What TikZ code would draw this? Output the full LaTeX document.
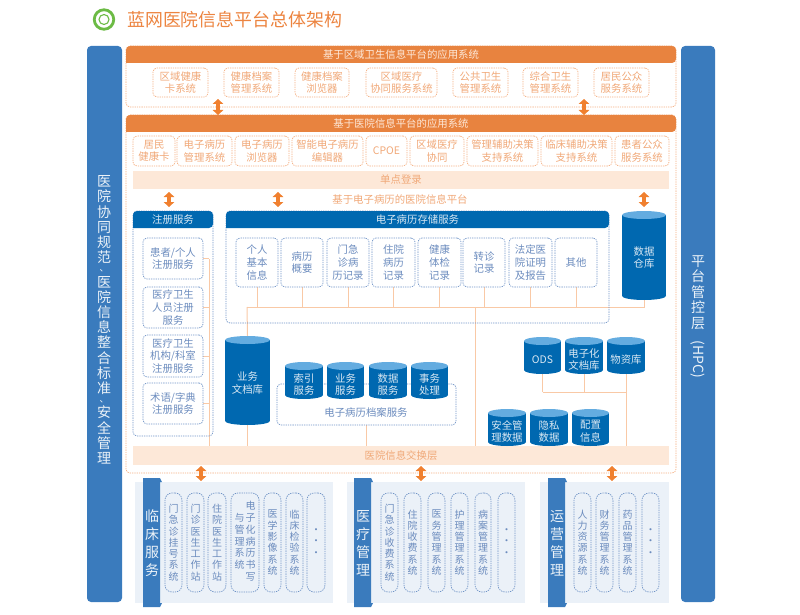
\documentclass[tikz,border=0pt]{standalone}
\usepackage{fontspec}
\setmainfont{Noto Sans CJK SC}
\usetikzlibrary{arrows.meta, calc, backgrounds}

\definecolor{barblue}{HTML}{3A7BBD}
\definecolor{headorange}{HTML}{E8833F}
\definecolor{headblue}{HTML}{0068B0}
\definecolor{cyltop}{HTML}{64ACE0}
\definecolor{bandpeach}{HTML}{FDE8D8}
\definecolor{paleblue}{HTML}{EBF1F8}
\definecolor{lineorange}{HTML}{F4AE80}
\definecolor{linkorange}{HTML}{F9C9A6}
\definecolor{textorange}{HTML}{F0A878}
\definecolor{lineblue}{HTML}{6F93C6}
\definecolor{textblue}{HTML}{6C8CBE}
\definecolor{arroworange}{HTML}{F0802F}
\definecolor{ringgreen}{HTML}{6CBB45}
\definecolor{titleorange}{HTML}{EC8440}

\tikzset{
	orgpanel/.style={draw=lineorange, line width=.7pt, dash pattern=on 1.3pt off 1pt, rounded corners=4pt},
	bluepanel/.style={draw=lineblue, line width=.7pt, dash pattern=on 1.3pt off 1pt, rounded corners=4pt},
	orgbox/.style={orgpanel, align=center, text=textorange, font=\fontsize{10.4}{12.6}\selectfont},
	bluebox/.style={bluepanel, align=center, text=textblue, font=\fontsize{10.4}{12.6}\selectfont},
	tallbox/.style={bluepanel, rounded corners=7pt, align=center, text=textblue, font=\fontsize{10}{11.3}\selectfont},
	band/.style={fill=bandpeach, align=center, text=textorange, font=\fontsize{10.4}{12.6}\selectfont},
	sidebar/.style={fill=barblue, rounded corners=4pt},
	subpanel/.style={fill=paleblue},
	drumtext/.style={align=center, inner sep=0pt, text=white!85!headblue, font=\fontsize{10.4}{12.6}\selectfont},
	link/.style={draw=linkorange, line width=1pt},
	fatarrow/.style={arroworange, line width=4.2pt, {Triangle[length=5pt,width=10.5pt]}-{Triangle[length=5pt,width=10.5pt]}},
}

% box from its corners: style, name, x0, y0, x1, y1, text
\newcommand{\cornerbox}[7]{\node[#1, minimum width={(#5)-(#3)}, minimum height={(#6)-(#4)}, inner sep=0pt] (#2) at ({((#3)+(#5))/2},{((#4)+(#6))/2}) {#7};}
% header with rounded top: colour, text colour, name, x0, y0, x1, y1, text
\newcommand{\headbar}[8]{
	\fill[#1] (#4,#7) {[rounded corners=4pt] -- (#4,#5) -- (#6,#5) -- (#6,#7)} -- cycle;
	\node[text=#2, font=\fontsize{10.4}{12.6}\selectfont, inner sep=0pt] (#3) at ({((#4)+(#6))/2},{((#5)+(#7))/2}) {#8};
}
% tab of a bottom panel: name, x0, x1, text
\newcommand{\tabbar}[4]{
	\fill[barblue] (#2,478) -- ({#3-2},478) -- (#3,482) -- ({#3-2},482) -- ({#3-2},603) -- (#3,603) -- ({#3-2},607) -- (#2,607) -- cycle;
	\node[align=center, text=white!90!barblue, font=\fontsize{14}{18}\selectfont, inner sep=0pt] (#1) at ({(#2+#3-1)/2},543) {#4};
}
% drum: name, x0, y0, x1, y1, text shift, text
\newcommand{\dbdrum}[7]{
	\fill[headblue] (#2,{#3+4}) rectangle (#4,{#5-4});
	\fill[headblue] ({(#2+#4)/2},{#5-4}) ellipse [x radius={(#4-#2)/2}, y radius=4];
	\fill[cyltop] ({(#2+#4)/2},{#3+4}) ellipse [x radius={(#4-#2)/2}, y radius=4];
	\cornerbox{}{#1}{#2}{#3}{#4}{#5}{}
	\node[drumtext] (#1text) at ({(#2+#4)/2},{(#3+#5)/2+#6}) {#7};
}
\newcommand{\smalldun}{{\fontsize{9}{9}\selectfont 、}}

\begin{document}
\begin{tikzpicture}[x=1pt, y=-1pt]
	\useasboundingbox (0,0) rectangle (800,615);

	% title
	\node[circle, draw=ringgreen, line width=2.8pt, minimum size=19.5pt, inner sep=0pt] (ringout) at (104,19.5) {};
	\node[circle, draw=ringgreen, line width=1.1pt, minimum size=10pt, inner sep=0pt] (ringin) at (104,19.5) {};
	\node[anchor=west, text=titleorange, font=\fontsize{17.9}{20}\selectfont, inner sep=0pt] (title) at (127,20) {蓝网医院信息平台总体架构};

	% side bars
	\cornerbox{sidebar}{barL}{87}{46}{122}{602}{}
	\cornerbox{sidebar}{barR}{681}{46}{715}{602}{}
	\node[align=center, text=white!90!barblue, font=\fontsize{14}{15.2}\selectfont, inner sep=0pt] (barLtext) at (104,320) {医\\院\\协\\同\\规\\范\\[-6pt]\smalldun\\医\\院\\信\\息\\整\\合\\标\\准\\[-6pt]\smalldun\\安\\全\\管\\理};
	\node[anchor=north, align=center, text=white!90!barblue, font=\fontsize{14}{15.5}\selectfont, inner sep=0pt] (barRtext) at (698,255) {平\\台\\管\\控\\层\\[-3pt]\rotatebox{-90}{(HPC)}};

	% regional platform
	\cornerbox{orgpanel}{regional}{126}{46}{676}{107}{}
	\headbar{headorange}{bandpeach}{regionalhead}{126}{46}{676}{63}{基于区域卫生信息平台的应用系统}
	\foreach \nm/\xa/\xb/\txt in {
		ra/153/208/区域健康\\卡系统, rb/224/279/健康档案\\管理系统, rc/295/349/健康档案\\浏览器,
		rd/366/437/区域医疗\\协同服务系统, re/453/508/公共卫生\\管理系统, rf/523/578/综合卫生\\管理系统,
		rg/594/649/居民公众\\服务系统}
		\cornerbox{orgbox}{\nm}{\xa}{68}{\xb}{97}{\txt};

	% hospital platform
	\cornerbox{orgpanel}{hospital}{126}{115}{676}{473}{}
	\headbar{headorange}{bandpeach}{hospitalhead}{126}{115}{676}{132}{基于医院信息平台的应用系统}
	\foreach \nm/\xa/\xb/\txt in {
		ha/133/175/居民\\健康卡, hb/177/232/电子病历\\管理系统, hc/235/289/电子病历\\浏览器,
		hd/292/363/智能电子病历\\编辑器, he/366/407/CPOE, hf/410/464/区域医疗\\协同,
		hg/467/538/管理辅助决策\\支持系统, hh/541/612/临床辅助决策\\支持系统, hi/615/669/患者公众\\服务系统}
		\cornerbox{orgbox}{\nm}{\xa}{136}{\xb}{166}{\txt};
	\cornerbox{band}{sso}{133}{171}{669}{189}{单点登录}
	\node[text=textorange, font=\fontsize{10.4}{12.6}\selectfont, inner sep=0pt] (emrplat) at (400,200) {基于电子病历的医院信息平台};

	% registration services
	\cornerbox{bluepanel}{regpanel}{133}{211}{213}{436}{}
	\headbar{headblue}{white!85!headblue}{reghead}{133}{211}{213}{228}{注册服务}
	\cornerbox{bluebox}{rega}{143}{238}{203}{279}{患者/个人\\注册服务}
	\cornerbox{bluebox}{regb}{143}{287}{203}{328}{医疗卫生\\人员注册\\服务}
	\cornerbox{bluebox}{regc}{143}{335}{203}{377}{医疗卫生\\机构/科室\\注册服务}
	\cornerbox{bluebox}{regd}{143}{383}{203}{424}{术语/字典\\注册服务}

	% record storage services
	\cornerbox{bluepanel}{storepanel}{226}{211}{609}{323}{}
	\headbar{headblue}{white!85!headblue}{storehead}{226}{211}{609}{228}{电子病历存储服务}
	\foreach \nm/\xa/\xb/\txt in {
		sa/236/278/个人\\基本\\信息, sb/281/323/病历\\概要, sc/327/369/门急\\诊病\\历记录, sd/372/415/住院\\病历\\记录,
		se/418/461/健康\\体检\\记录, sf/463/505/转诊\\记录, sg/509/552/法定医\\院证明\\及报告, sh/555/597/其他}
		\cornerbox{bluebox}{\nm}{\xa}{238}{\xb}{287}{\txt};

	% exchange layer
	\cornerbox{band}{xch}{133}{446}{669}{465}{医院信息交换层}

	% archive service frame
	\cornerbox{bluepanel}{archive}{277}{384}{456}{425}{}
	\node[text=textblue, font=\fontsize{10.4}{12.6}\selectfont, inner sep=0pt] (archivetext) at (366,413) {电子病历档案服务};

	% databases
	\dbdrum{warehouse}{622}{211}{666}{300}{2}{数据\\仓库}
	\dbdrum{bizdoc}{225}{336}{270}{425}{2.5}{业务\\文档库}
	\foreach \nm/\xa/\ya/\xb/\yb/\txt in {
		ca/285/362/323/399/索引\\服务, cb/327/362/364/399/业务\\服务, cc/369/362/407/399/数据\\服务, cd/411/362/448/399/事务\\处理,
		ods/524/337/561/374/ODS, edoc/565/337/603/374/电子化\\文档库, mat/607/337/645/374/物资库,
		sec/488/409/526/446/安全管\\理数据, priv/530/409/568/446/隐私\\数据, conf/572/409/609/446/配置\\信息}
		\dbdrum{\nm}{\xa}{\ya}{\xb}{\yb}{4}{\txt};

	% connectors
	\coordinate (busE) at (247,307);
	\coordinate (busR) at (475,307);
	\coordinate (regbus) at (209,259);
	\coordinate (busO) at (540,392);
	\begin{scope}[on background layer]
		\foreach \nm in {sa,sb,sc,sd,se,sf,sg,sh}
			\draw[link] (\nm.south) -- (\nm.south |- busE);
		\draw[link] (busE) -- (busE -| warehouse.south) -- (warehouse.south);
		\draw[link] (busE) -- (bizdoc.north);
		\draw[link] (bizdoc.south) -- (bizdoc.south |- xch.north);
		\draw[link] (busR) -- (busR |- xch.north);
		\draw[link] (archive.south) -- (archive.south |- xch.north);
		\draw[link] (regbus) -- (regbus |- xch.north);
		\foreach \nm in {rega,regb,regc,regd}
			\draw[link] (\nm.east) -- (\nm.east -| regbus);
		\draw[link] (busO -| ods.south) -- (busO -| mat.south);
		\draw[link] (ods.south) -- (ods.south |- busO);
		\draw[link] (edoc.south) -- (edoc.south |- busO);
		\draw[link] (mat.south) -- (mat.south |- xch.north);
	\end{scope}

	% bottom panels
	\cornerbox{subpanel}{clinpanel}{135}{482}{333}{603}{}
	\cornerbox{subpanel}{medpanel}{347}{482}{525}{603}{}
	\cornerbox{subpanel}{oppanel}{540}{482}{669}{603}{}
	\tabbar{clintab}{143}{162}{临\\床\\服\\务}
	\tabbar{medtab}{354}{373}{医\\疗\\管\\理}
	\tabbar{optab}{548}{567}{运\\营\\管\\理}
	\foreach \nm/\xa/\xb/\txt in {
		ta/165/182/门\\急\\诊\\挂\\号\\系\\统, tb/187/204/门\\诊\\医\\生\\工\\作\\站, tc/208/226/住\\院\\医\\生\\工\\作\\站,
		td/231/259/{\begin{tabular}{@{}c@{\hspace{1pt}}c@{}}&电\\与&子\\管&化\\理&病\\系&历\\统&书\\&写\end{tabular}},
		te/264/281/医\\学\\影\\像\\系\\统, tf/286/303/临\\床\\检\\验\\系\\统, tg/307/325/·\\·\\·,
		ua/381/398/门\\急\\诊\\收\\费\\系\\统, ub/404/421/住\\院\\收\\费\\系\\统, uc/428/445/医\\务\\管\\理\\系\\统,
		ud/451/468/护\\理\\管\\理\\系\\统, ue/475/491/病\\案\\管\\理\\系\\统, uf/498/515/·\\·\\·,
		va/574/591/人\\力\\资\\源\\系\\统, vb/596/613/财\\务\\管\\理\\系\\统, vc/619/636/药\\品\\管\\理\\系\\统, vd/642/659/·\\·\\·}
		\cornerbox{tallbox}{\nm}{\xa}{493}{\xb}{592}{\txt};

	% arrows between layers
	\foreach \nm/\xx/\ya/\yb in {
		aa/218/99/115, ab/584/99/115, ac/169/192/207, ad/278/192/207, ae/644/192/207,
		af/201/466/481, ag/421/466/481, ah/612/466/481} {
		\coordinate (\nm top) at (\xx,\ya);
		\coordinate (\nm bot) at (\xx,\yb);
		\draw[fatarrow] (\nm top) -- (\nm bot);
	}

\end{tikzpicture}
\end{document}
